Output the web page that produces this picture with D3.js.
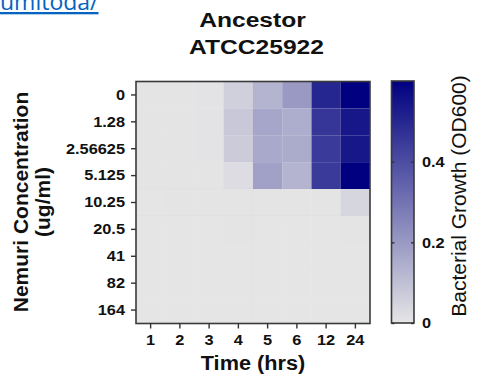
<!DOCTYPE html>
<html>
<head>
<meta charset="utf-8">
<script src="https://cdn.jsdelivr.net/npm/d3@7/dist/d3.min.js"></script>
<style>
  html, body { margin: 0; padding: 0; background: #fff; }
  svg { display: block; font-family: "Liberation Sans", Arial, sans-serif; }
</style>
</head>
<body>
<div id="chart"></div>
<script>
const times = ['1', '2', '3', '4', '5', '6', '12', '24'];
const concentrations = ['0', '1.28', '2.56625', '5.125', '10.25', '20.5', '41', '82', '164'];

// OD600 per concentration row, one value per time column
const growth = [
  [0.005, 0.005, 0.008, 0.057, 0.13, 0.20, 0.50, 0.60],
  [0.004, 0.005, 0.007, 0.078, 0.167, 0.15, 0.46, 0.54],
  [0.004, 0.005, 0.007, 0.07, 0.16, 0.155, 0.45, 0.54],
  [0.004, 0.005, 0.006, 0.026, 0.18, 0.13, 0.45, 0.60],
  [0.003, 0.004, 0.004, 0.006, 0.004, 0.004, 0.004, 0.042],
  [0.003, 0.003, 0.003, 0.004, 0.003, 0.003, 0.003, 0.004],
  [0.003, 0.003, 0.003, 0.003, 0.003, 0.003, 0.003, 0.003],
  [0.003, 0.003, 0.003, 0.003, 0.003, 0.003, 0.003, 0.003],
  [0.003, 0.003, 0.003, 0.003, 0.003, 0.003, 0.003, 0.003]
];

const colorDomain = [0, 0.6];
const colorTicks = [0, 0.2, 0.4];

const width = 477, height = 375;
const svg = d3.select('#chart').append('svg')
  .attr('width', width)
  .attr('height', height);

// stray link text cut off at the top of the screenshot
svg.append('text')
  .attr('x', 0).attr('y', 10)
  .style('font-family', '"Open Sans", "Noto Sans", sans-serif')
  .style('font-size', '23px')
  .style('fill', '#0563c1')
  .style('text-decoration', 'underline')
  .text('umitoda/');

const x = d3.scaleBand().domain(times).range([136, 370]);
const y = d3.scaleBand().domain(concentrations).range([81.5, 323.5]);
const color = d3.scaleLinear().domain(colorDomain).range(['#e6e6e6', '#000080']).clamp(true);

const cells = [];
concentrations.forEach((c, i) => times.forEach((t, j) => cells.push({ c, t, v: growth[i][j] })));

svg.append('g').selectAll('rect')
  .data(cells)
  .join('rect')
  .attr('x', d => x(d.t))
  .attr('y', d => y(d.c))
  .attr('width', x.bandwidth())
  .attr('height', y.bandwidth())
  .attr('fill', d => color(d.v))
  .attr('stroke', 'rgba(0,0,0,0.025)')
  .attr('stroke-width', 0.6);

svg.append('rect')
  .attr('x', 136).attr('y', 81.5)
  .attr('width', 234).attr('height', 242)
  .attr('fill', 'none')
  .attr('stroke', '#3a3a3a')
  .attr('stroke-width', 1.6);

// the source figure is a little stretched sideways, so text gets a scaleX
const stretch = s => function () {
  const t = d3.select(this);
  const tx = +t.attr('x') || 0, ty = +t.attr('y') || 0;
  t.attr('x', 0).attr('y', 0).attr('transform', `translate(${tx},${ty}) scale(${s},1)`);
};

const styleAxis = g => {
  g.select('.domain').remove();
  g.selectAll('line').attr('stroke', '#333').attr('stroke-width', 1.4);
  g.selectAll('text')
    .style('font-size', '15px')
    .style('font-weight', 'bold')
    .style('fill', '#111')
    .each(stretch(1.09));
};

svg.append('g')
  .attr('transform', 'translate(136,0)')
  .call(d3.axisLeft(y).tickSize(5).tickPadding(6))
  .call(styleAxis);

svg.append('g')
  .attr('transform', 'translate(0,323.5)')
  .call(d3.axisBottom(x).tickSize(5).tickPadding(6))
  .call(styleAxis);

// colour bar
const cb = { x: 391.5, w: 22.5 };
const cy = d3.scaleLinear().domain(colorDomain).range([323, 81]);

const grad = svg.append('defs').append('linearGradient')
  .attr('id', 'cbgrad')
  .attr('x1', 0).attr('y1', 1).attr('x2', 0).attr('y2', 0);
d3.range(0, 1.0001, 0.1).forEach(t => {
  grad.append('stop')
    .attr('offset', t)
    .attr('stop-color', color(colorDomain[0] + t * (colorDomain[1] - colorDomain[0])));
});

svg.append('rect')
  .attr('x', cb.x).attr('y', cy(colorDomain[1]))
  .attr('width', cb.w).attr('height', cy(colorDomain[0]) - cy(colorDomain[1]))
  .attr('fill', 'url(#cbgrad)')
  .attr('stroke', '#3a3a3a')
  .attr('stroke-width', 1.6);

svg.append('g')
  .attr('transform', `translate(${cb.x + cb.w},0)`)
  .call(d3.axisRight(cy).tickValues(colorTicks).tickFormat(d3.format('~g')).tickSize(-3).tickPadding(8))
  .call(styleAxis);

svg.append('g')
  .attr('transform', `translate(${cb.x},0)`)
  .call(d3.axisLeft(cy).tickValues(colorTicks).tickFormat('').tickSize(-3))
  .call(styleAxis);

// titles
const boldText = (cx, cy0, size, s, label) => svg.append('text')
  .attr('transform', `translate(${cx},${cy0}) scale(${s},1)`)
  .attr('text-anchor', 'middle')
  .style('font-size', size + 'px')
  .style('font-weight', 'bold')
  .style('fill', '#111')
  .text(label);

boldText(252.5, 27, 20, 1.23, 'Ancestor');
boldText(256.5, 54, 20, 1.23, 'ATCC25922');
boldText(253, 370, 20, 1.085, 'Time (hrs)');

const yTitle = svg.append('text')
  .attr('transform', 'translate(0,202) rotate(-90)')
  .attr('text-anchor', 'middle')
  .style('font-size', '21px')
  .style('font-weight', 'bold')
  .style('fill', '#111');
yTitle.append('tspan').attr('x', 0).attr('y', 28).text('Nemuri Concentration');
yTitle.append('tspan').attr('x', 0).attr('y', 50).text('(ug/ml)');

svg.append('text')
  .attr('transform', 'translate(466,196) rotate(-90)')
  .attr('text-anchor', 'middle')
  .style('font-size', '21px')
  .style('fill', '#111')
  .text('Bacterial Growth (OD600)');
</script>
</body>
</html>
